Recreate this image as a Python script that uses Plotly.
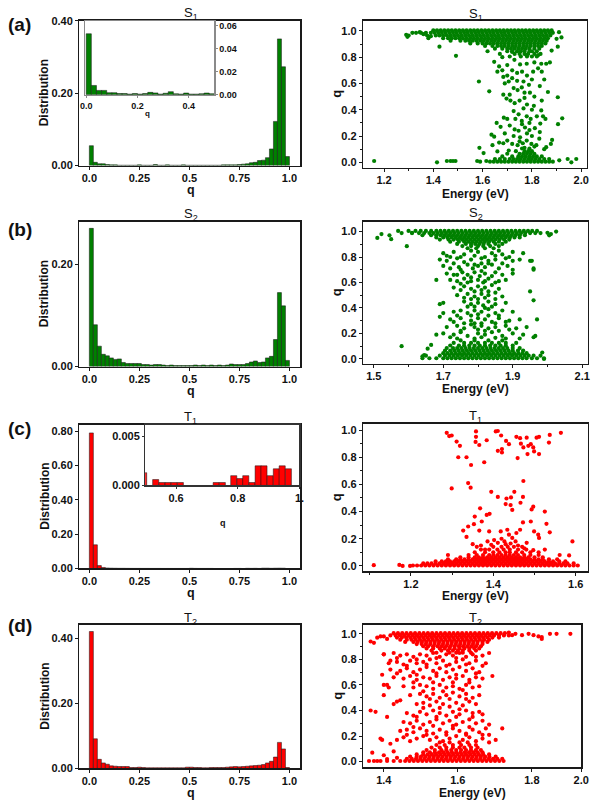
import plotly.graph_objects as go

W, H = 600, 806
FONT = "Liberation Sans, Arial, sans-serif"
GREEN = "#008000"
RED = "#ff0000"

# ---------------- histogram data ----------------
bin_w = 0.02
hist_centers = [round(0.01 + 0.02 * k, 3) for k in range(50)]

hist_s1 = [0.055, 0.009, 0.005, 0.005, 0.003, 0.002, 0.002, 0.001, 0.001, 0.001,
           0.001, 0.001, 0.002, 0.001, 0.001, 0.001, 0.003, 0.001, 0.001, 0.002,
           0.001, 0.001, 0.001, 0.002, 0.001, 0.001, 0.001, 0.001, 0.001, 0.001,
           0.001, 0.001, 0.001, 0.002, 0.002, 0.002, 0.002, 0.003, 0.004, 0.005,
           0.008, 0.009, 0.014, 0.015, 0.022, 0.046, 0.122, 0.350, 0.273, 0.025]
hist_s2 = [0.271, 0.082, 0.040, 0.024, 0.021, 0.017, 0.014, 0.015, 0.008, 0.006,
           0.006, 0.006, 0.006, 0.004, 0.004, 0.003, 0.004, 0.004, 0.003, 0.002,
           0.003, 0.002, 0.002, 0.002, 0.002, 0.002, 0.003, 0.002, 0.003, 0.002,
           0.003, 0.002, 0.003, 0.002, 0.003, 0.005, 0.004, 0.004, 0.004, 0.006,
           0.009, 0.011, 0.008, 0.009, 0.017, 0.020, 0.053, 0.145, 0.119, 0.012]
hist_t1 = [0.79, 0.138, 0.017, 0.006, 0.003, 0.002, 0.0015, 0.001, 0.001, 0.0008,
           0.0006, 0.0005, 0.0005, 0.0004, 0.0004, 0.0003, 0.0003, 0.0003, 0.0002, 0.0002,
           0.0002, 0.0002, 0.0002, 0.0002, 0.0002, 0.0013, 0.0006, 0.0003, 0.0003, 0.0003,
           0.0003, 0, 0, 0, 0, 0, 0.0003, 0.0003, 0, 0.001,
           0.0007, 0.001, 0.0003, 0.002, 0.002, 0.001, 0.0017, 0.002, 0.0017, 0]
hist_t2 = [0.42, 0.091, 0.028, 0.017, 0.013, 0.008, 0.007, 0.006, 0.006, 0.006,
           0.003, 0.003, 0.004, 0.003, 0.002, 0.002, 0.002, 0.002, 0.002, 0.002,
           0.002, 0.002, 0.002, 0.002, 0.004, 0.004, 0.003, 0.003, 0.002, 0.002,
           0.003, 0.003, 0.003, 0.003, 0.004, 0.005, 0.006, 0.005, 0.006, 0.007,
           0.008, 0.009, 0.010, 0.012, 0.017, 0.022, 0.035, 0.080, 0.060, 0.003]

inset_s1_centers = [round(0.01 + 0.02 * k, 3) for k in range(25)]
inset_s1 = [0.053, 0.008, 0.0037, 0.0037, 0.0017, 0.0017, 0.001, 0.001, 0.0005, 0.001,
            0.0005, 0.001, 0.002, 0.0015, 0.0005, 0.0012, 0.0026, 0.0008, 0.0005, 0.0014,
            0.0005, 0.0005, 0.0008, 0.0014, 0.0008]
inset_t1_w = 0.0197
inset_t1_centers = [0.495, 0.534, 0.554, 0.574, 0.594, 0.614, 0.73, 0.75, 0.787, 0.807,
                    0.826, 0.846, 0.866, 0.885, 0.905, 0.925, 0.944, 0.964]
inset_t1 = [0.0013, 0.0006, 0.0003, 0.0003, 0.0003, 0.0003, 0.0003, 0.0003, 0.001, 0.0007,
            0.001, 0.0003, 0.002, 0.002, 0.001, 0.0017, 0.002, 0.0017]

# ---------------- scatter data (Energy, q) ----------------
# dense bands: (q, [energies])
s1_top_rows = [
    (1.005, [1.40, 1.415, 1.43, 1.445, 1.46, 1.475, 1.49, 1.505, 1.52, 1.535, 1.55, 1.565, 1.58, 1.595, 1.61, 1.625, 1.64, 1.655, 1.67, 1.685, 1.70, 1.715, 1.73, 1.745, 1.76, 1.775, 1.79, 1.805, 1.82, 1.835, 1.85, 1.865, 1.88]),
    (0.985, [1.33, 1.35, 1.37, 1.39, 1.405, 1.42, 1.435, 1.45, 1.465, 1.48, 1.495, 1.51, 1.525, 1.54, 1.555, 1.57, 1.585, 1.60, 1.615, 1.63, 1.645, 1.66, 1.675, 1.69, 1.705, 1.72, 1.735, 1.75, 1.765, 1.78, 1.795, 1.81, 1.825, 1.84, 1.855, 1.87, 1.885]),
    (0.965, [1.30, 1.375, 1.41, 1.425, 1.44, 1.455, 1.47, 1.485, 1.50, 1.515, 1.53, 1.545, 1.56, 1.575, 1.59, 1.605, 1.62, 1.635, 1.65, 1.665, 1.68, 1.695, 1.71, 1.725, 1.74, 1.755, 1.77, 1.785, 1.80, 1.815, 1.83, 1.845, 1.86, 1.875]),
    (0.945, [1.38, 1.44, 1.46, 1.475, 1.49, 1.505, 1.52, 1.535, 1.55, 1.565, 1.58, 1.595, 1.61, 1.625, 1.64, 1.655, 1.67, 1.685, 1.70, 1.715, 1.73, 1.745, 1.76, 1.775, 1.79, 1.805, 1.82, 1.835, 1.85, 1.865]),
    (0.925, [1.47, 1.51, 1.53, 1.545, 1.56, 1.575, 1.59, 1.605, 1.62, 1.635, 1.65, 1.665, 1.68, 1.695, 1.71, 1.725, 1.74, 1.755, 1.77, 1.785, 1.80, 1.815, 1.83, 1.845, 1.86]),
    (0.905, [1.55, 1.58, 1.60, 1.615, 1.63, 1.645, 1.66, 1.675, 1.69, 1.705, 1.72, 1.735, 1.75, 1.765, 1.78, 1.795, 1.81, 1.825, 1.84, 1.855]),
    (0.885, [1.61, 1.64, 1.66, 1.675, 1.69, 1.705, 1.72, 1.735, 1.75, 1.765, 1.78, 1.795, 1.81, 1.825, 1.84]),
    (0.865, [1.65, 1.68, 1.70, 1.715, 1.73, 1.745, 1.76, 1.775, 1.79, 1.81, 1.83]),
    (0.845, [1.62, 1.70, 1.72, 1.74, 1.755, 1.77, 1.79, 1.80, 1.82]),
    (0.825, [1.67, 1.73, 1.75, 1.77, 1.785, 1.81, 1.835]),
    (0.805, [1.71, 1.755, 1.78, 1.80, 1.82]),
]
s1_bottom_rows = [
    (0.005, [1.63, 1.645, 1.66, 1.675, 1.69, 1.705, 1.72, 1.735, 1.75, 1.765, 1.78, 1.795, 1.81, 1.825, 1.84, 1.855, 1.87, 1.885]),
    (0.025, [1.65, 1.67, 1.69, 1.71, 1.725, 1.74, 1.755, 1.77, 1.785, 1.80, 1.815, 1.83, 1.85, 1.87]),
    (0.045, [1.68, 1.72, 1.745, 1.76, 1.775, 1.79, 1.805, 1.82, 1.84]),
    (0.065, [1.70, 1.75, 1.765, 1.78, 1.795, 1.81]),
    (0.085, [1.735, 1.77, 1.785, 1.80]),
    (0.105, [1.76, 1.79]),
]
s1_points = [
    (1.16, 0.01), (1.415, 0.0), (1.455, 0.01), (1.47, 0.01), (1.48, 0.01), (1.49, 0.01), (1.578, 0.01), (1.59, 0.005), (1.615, 0.01),
    (1.587, 0.11), (1.604, 0.07), (1.585, 0.615), (1.627, 0.54), (1.425, 0.88), (1.492, 0.81),
    (1.66, 0.69), (1.68, 0.70), (1.684, 0.65), (1.70, 0.66), (1.706, 0.615), (1.72, 0.64), (1.726, 0.565), (1.71, 0.515), (1.684, 0.515),
    (1.697, 0.485), (1.713, 0.47), (1.742, 0.55), (1.759, 0.57), (1.766, 0.615), (1.788, 0.59), (1.792, 0.53), (1.832, 0.58), (1.838, 0.75),
    (1.825, 0.715), (1.805, 0.69), (1.779, 0.75), (1.752, 0.745), (1.729, 0.78), (1.70, 0.74), (1.667, 0.73), (1.647, 0.765), (1.72, 0.84),
    (1.68, 0.80), (1.779, 0.815), (1.825, 0.815), (1.858, 0.75),
    (1.726, 0.39), (1.746, 0.365), (1.766, 0.41), (1.779, 0.35), (1.795, 0.33), (1.838, 0.395), (1.845, 0.35), (1.808, 0.43), (1.733, 0.33),
    (1.70, 0.33), (1.686, 0.34), (1.759, 0.315), (1.772, 0.265), (1.79, 0.245), (1.746, 0.24), (1.726, 0.2), (1.752, 0.19), (1.812, 0.26),
    (1.832, 0.23), (1.855, 0.33), (1.657, 0.30), (1.673, 0.27), (1.636, 0.21), (1.647, 0.195), (1.667, 0.15), (1.684, 0.145), (1.70, 0.165),
    (1.72, 0.14), (1.742, 0.13), (1.763, 0.145), (1.779, 0.165), (1.798, 0.14), (1.818, 0.13), (1.882, 0.17), (1.877, 0.14), (1.858, 0.115),
    (1.66, 0.083), (1.706, 0.09), (1.865, 0.535), (1.834, 0.295),
    (1.911, 0.015), (1.945, 0.025), (1.96, 0.0), (1.98, 0.025), (1.906, 0.29), (1.923, 0.335), (1.905, 0.495), (1.90, 0.94), (1.91, 0.99),
    (1.92, 0.95), (1.88, 0.85), (1.905, 0.88), (1.873, 0.76),
    (1.29, 0.97), (1.295, 0.955), (1.315, 0.985), (1.345, 0.99), (1.36, 0.975), (1.39, 0.96),
    (1.75, 0.47), (1.77, 0.49), (1.78, 0.44), (1.73, 0.45), (1.80, 0.40), (1.76, 0.29), (1.79, 0.30), (1.82, 0.35), (1.78, 0.22), (1.80, 0.20),
    (1.76, 0.69), (1.78, 0.66), (1.80, 0.63), (1.74, 0.62), (1.72, 0.70), (1.69, 0.60), (1.74, 0.68), (1.81, 0.76), (1.84, 0.69), (1.85, 0.63),
    (1.77, 0.53), (1.81, 0.50), (1.84, 0.47), (1.73, 0.25), (1.71, 0.28), (1.69, 0.22), (1.77, 0.11), (1.81, 0.12), (1.83, 0.18), (1.75, 0.16),
    (1.64, 0.13), (1.85, 0.10),
]

s2_top_rows = [
    (1.005, [1.57, 1.60, 1.62, 1.635, 1.65, 1.665, 1.68, 1.692, 1.704, 1.716, 1.728, 1.74, 1.752, 1.764, 1.776, 1.788, 1.80, 1.812, 1.824, 1.836, 1.848, 1.86, 1.872, 1.884, 1.896, 1.908, 1.92, 1.932, 1.944, 1.956, 1.97]),
    (0.988, [1.58, 1.61, 1.63, 1.645, 1.66, 1.672, 1.684, 1.696, 1.708, 1.72, 1.732, 1.744, 1.756, 1.768, 1.78, 1.792, 1.804, 1.816, 1.828, 1.84, 1.852, 1.864, 1.876, 1.888, 1.90, 1.912, 1.924, 1.936, 1.95, 1.965, 1.98]),
    (0.971, [1.64, 1.665, 1.68, 1.692, 1.704, 1.716, 1.728, 1.74, 1.752, 1.764, 1.776, 1.788, 1.80, 1.812, 1.824, 1.836, 1.848, 1.86, 1.872, 1.884, 1.896, 1.908, 1.92, 1.935]),
    (0.954, [1.68, 1.70, 1.712, 1.724, 1.736, 1.748, 1.76, 1.772, 1.784, 1.796, 1.808, 1.82, 1.832, 1.844, 1.856, 1.868, 1.88, 1.892, 1.905, 1.92]),
    (0.937, [1.69, 1.715, 1.73, 1.742, 1.754, 1.766, 1.778, 1.79, 1.802, 1.814, 1.826, 1.838, 1.85, 1.862, 1.875, 1.89]),
    (0.920, [1.72, 1.745, 1.76, 1.772, 1.784, 1.796, 1.808, 1.82, 1.832, 1.845, 1.86, 1.88]),
    (0.903, [1.74, 1.765, 1.78, 1.792, 1.804, 1.816, 1.83, 1.85, 1.87]),
    (0.886, [1.755, 1.78, 1.80, 1.815, 1.835, 1.86]),
    (0.869, [1.77, 1.795, 1.82, 1.845]),
]
s2_bottom_rows = [
    (0.005, [1.64, 1.66, 1.68, 1.70, 1.712, 1.724, 1.736, 1.748, 1.76, 1.772, 1.784, 1.796, 1.808, 1.82, 1.832, 1.844, 1.856, 1.868, 1.88, 1.892, 1.904, 1.916, 1.928, 1.94, 1.955, 1.97, 1.99]),
    (0.025, [1.65, 1.69, 1.705, 1.718, 1.73, 1.742, 1.754, 1.766, 1.778, 1.79, 1.802, 1.814, 1.826, 1.838, 1.85, 1.862, 1.874, 1.886, 1.898, 1.91, 1.922, 1.934, 1.946, 1.96, 1.98]),
    (0.045, [1.70, 1.712, 1.724, 1.736, 1.748, 1.76, 1.772, 1.784, 1.796, 1.808, 1.82, 1.832, 1.844, 1.856, 1.868, 1.88, 1.892, 1.904, 1.916, 1.928, 1.94]),
    (0.065, [1.705, 1.72, 1.732, 1.744, 1.756, 1.768, 1.78, 1.792, 1.804, 1.816, 1.828, 1.84, 1.852, 1.864, 1.876, 1.888, 1.90, 1.915, 1.93]),
    (0.085, [1.71, 1.728, 1.74, 1.752, 1.764, 1.776, 1.788, 1.80, 1.812, 1.824, 1.836, 1.848, 1.86, 1.872, 1.884, 1.90, 1.92]),
    (0.105, [1.72, 1.745, 1.76, 1.775, 1.79, 1.805, 1.82, 1.835, 1.85, 1.865, 1.88, 1.90]),
    (0.125, [1.73, 1.76, 1.78, 1.80, 1.82, 1.84, 1.86, 1.88, 1.91]),
    (0.145, [1.75, 1.79, 1.83, 1.87]),
]
s2_points = [
    (1.70, 0.83), (1.73, 0.84), (1.76, 0.82), (1.80, 0.84), (1.84, 0.83), (1.87, 0.82), (1.90, 0.84), (1.93, 0.83), (1.78, 0.85), (1.86, 0.85),
    (1.69, 0.78), (1.71, 0.77), (1.74, 0.79), (1.76, 0.76), (1.78, 0.78), (1.81, 0.79), (1.83, 0.77), (1.85, 0.78), (1.88, 0.79), (1.90, 0.77),
    (1.92, 0.78), (1.95, 0.77), (1.72, 0.80),
    (1.70, 0.73), (1.72, 0.71), (1.745, 0.72), (1.77, 0.74), (1.785, 0.71), (1.80, 0.73), (1.82, 0.72), (1.84, 0.74), (1.86, 0.71), (1.885, 0.73),
    (1.90, 0.70), (1.96, 0.71), (1.75, 0.70), (1.81, 0.75),
    (1.71, 0.67), (1.73, 0.66), (1.755, 0.68), (1.77, 0.66), (1.79, 0.68), (1.805, 0.65), (1.82, 0.67), (1.85, 0.68), (1.87, 0.66), (1.90, 0.67), (1.78, 0.64),
    (1.68, 0.62), (1.72, 0.62), (1.74, 0.61), (1.76, 0.63), (1.78, 0.61), (1.80, 0.62), (1.815, 0.60), (1.83, 0.63), (1.86, 0.61), (1.88, 0.62), (1.75, 0.59),
    (1.73, 0.56), (1.76, 0.57), (1.78, 0.55), (1.80, 0.57), (1.82, 0.56), (1.84, 0.58), (1.86, 0.55), (1.79, 0.53), (1.95, 0.53),
    (1.74, 0.50), (1.77, 0.51), (1.79, 0.49), (1.81, 0.51), (1.83, 0.50), (1.85, 0.52), (1.87, 0.49), (1.80, 0.47), (1.96, 0.46),
    (1.69, 0.43), (1.70, 0.44), (1.76, 0.45), (1.78, 0.43), (1.80, 0.44), (1.815, 0.42), (1.83, 0.45), (1.85, 0.43), (1.88, 0.44), (1.79, 0.41),
    (1.70, 0.36), (1.73, 0.37), (1.75, 0.38), (1.77, 0.36), (1.79, 0.38), (1.81, 0.37), (1.83, 0.39), (1.85, 0.36), (1.87, 0.38), (1.90, 0.37),
    (1.69, 0.33), (1.74, 0.34),
    (1.72, 0.31), (1.75, 0.32), (1.78, 0.30), (1.80, 0.32), (1.82, 0.31), (1.84, 0.29), (1.86, 0.32), (1.89, 0.30), (1.92, 0.31), (1.97, 0.31),
    (1.76, 0.28), (1.81, 0.28),
    (1.71, 0.25), (1.74, 0.26), (1.76, 0.24), (1.79, 0.25), (1.81, 0.26), (1.83, 0.24), (1.85, 0.25), (1.88, 0.26), (1.91, 0.24), (1.94, 0.25),
    (1.78, 0.27), (1.82, 0.22),
    (1.68, 0.19), (1.70, 0.20), (1.73, 0.19), (1.75, 0.21), (1.77, 0.18), (1.80, 0.20), (1.82, 0.19), (1.84, 0.21), (1.87, 0.18), (1.90, 0.20),
    (1.93, 0.19), (1.96, 0.17), (1.965, 0.18), (1.72, 0.17), (1.79, 0.16), (1.85, 0.165),
    (1.71, 0.81), (1.75, 0.80), (1.79, 0.81), (1.82, 0.80), (1.85, 0.81), (1.89, 0.80), (1.73, 0.75), (1.79, 0.74), (1.83, 0.75), (1.87, 0.75),
    (1.74, 0.66), (1.81, 0.69), (1.84, 0.65), (1.77, 0.60), (1.82, 0.61), (1.85, 0.60), (1.75, 0.54), (1.81, 0.54), (1.83, 0.53), (1.76, 0.48),
    (1.78, 0.47), (1.82, 0.48), (1.85, 0.47), (1.77, 0.41), (1.82, 0.40), (1.84, 0.41), (1.78, 0.34), (1.80, 0.35), (1.83, 0.34), (1.86, 0.34),
    (1.73, 0.29), (1.79, 0.28), (1.85, 0.28), (1.88, 0.29), (1.75, 0.22), (1.80, 0.23), (1.86, 0.22), (1.89, 0.23), (1.74, 0.16), (1.81, 0.17),
    (1.88, 0.16), (1.92, 0.16),
    (1.51, 0.95), (1.522, 0.98), (1.545, 0.97), (1.55, 0.94), (1.595, 0.885), (1.61, 0.99), (2.00, 0.99), (2.01, 0.98), (2.025, 1.0), (2.005, 0.97),
    (1.58, 0.10), (1.64, 0.02), (1.645, 0.03), (1.655, 0.08), (1.665, 0.11), (1.985, 0.05), (1.99, 0.0), (1.955, 0.77), (1.96, 0.70),
]

t1_bottom_rows = [
    (0.003, [1.205, 1.215, 1.225, 1.235, 1.245, 1.255, 1.265, 1.275, 1.285, 1.295, 1.305, 1.315, 1.325, 1.335, 1.345, 1.355, 1.365, 1.375, 1.385, 1.395, 1.405, 1.415, 1.425, 1.435, 1.445, 1.455, 1.465, 1.475, 1.485, 1.495, 1.505, 1.515, 1.525, 1.535, 1.545, 1.555, 1.565, 1.575, 1.585, 1.595, 1.605]),
    (0.018, [1.23, 1.24, 1.25, 1.26, 1.27, 1.28, 1.29, 1.30, 1.31, 1.32, 1.33, 1.34, 1.35, 1.36, 1.37, 1.38, 1.39, 1.40, 1.41, 1.42, 1.43, 1.44, 1.45, 1.46, 1.47, 1.48, 1.49, 1.50, 1.51, 1.52, 1.53, 1.54, 1.55, 1.56, 1.57, 1.58, 1.595]),
    (0.033, [1.26, 1.275, 1.285, 1.295, 1.305, 1.315, 1.325, 1.335, 1.345, 1.355, 1.365, 1.375, 1.385, 1.395, 1.405, 1.415, 1.425, 1.435, 1.445, 1.455, 1.465, 1.475, 1.485, 1.495, 1.505, 1.515, 1.525, 1.535, 1.545, 1.56, 1.575]),
    (0.048, [1.29, 1.31, 1.32, 1.33, 1.34, 1.35, 1.36, 1.37, 1.38, 1.39, 1.40, 1.41, 1.42, 1.43, 1.44, 1.45, 1.46, 1.47, 1.48, 1.49, 1.50, 1.51, 1.52, 1.535, 1.555]),
    (0.063, [1.32, 1.34, 1.355, 1.365, 1.375, 1.385, 1.395, 1.405, 1.415, 1.425, 1.435, 1.445, 1.455, 1.465, 1.475, 1.485, 1.50, 1.52]),
    (0.080, [1.34, 1.36, 1.375, 1.39, 1.40, 1.41, 1.42, 1.43, 1.44, 1.45, 1.46, 1.475, 1.49, 1.51]),
    (0.100, [1.355, 1.38, 1.40, 1.415, 1.43, 1.44, 1.455, 1.47, 1.49]),
    (0.120, [1.37, 1.39, 1.41, 1.425, 1.44, 1.46, 1.48]),
    (0.140, [1.36, 1.40, 1.42, 1.435, 1.45, 1.47]),
]
t1_points = [
    (1.11, 0.005), (1.172, 0.007), (1.18, 0.0), (1.198, 0.0), (1.29, 0.08),
    (1.287, 0.98), (1.293, 0.956), (1.299, 0.96), (1.311, 0.915), (1.319, 0.884), (1.315, 0.80), (1.335, 0.80), (1.346, 0.743), (1.358, 0.99),
    (1.358, 0.95), (1.357, 0.913), (1.366, 0.89), (1.378, 0.763), (1.384, 0.925), (1.406, 0.99), (1.411, 0.993), (1.411, 0.847), (1.419, 0.96),
    (1.421, 0.86), (1.421, 0.835), (1.431, 0.92), (1.438, 0.896), (1.456, 0.95), (1.459, 0.794), (1.465, 0.94), (1.467, 0.90), (1.473, 0.872),
    (1.481, 0.944), (1.483, 0.823), (1.485, 0.884), (1.491, 0.896), (1.497, 0.872), (1.505, 0.944), (1.511, 0.95), (1.511, 0.823), (1.499, 0.843),
    (1.535, 0.908), (1.537, 0.964), (1.564, 0.98),
    (1.299, 0.57), (1.339, 0.61), (1.345, 0.576), (1.368, 0.424), (1.372, 0.327), (1.384, 0.375), (1.395, 0.545), (1.391, 0.383), (1.411, 0.508),
    (1.432, 0.496), (1.443, 0.504), (1.451, 0.545), (1.473, 0.625), (1.472, 0.508), (1.466, 0.465), (1.43, 0.455), (1.442, 0.448), (1.446, 0.412),
    (1.493, 0.416), (1.497, 0.436), (1.525, 0.40), (1.529, 0.31), (1.327, 0.26), (1.335, 0.213), (1.339, 0.29), (1.353, 0.307), (1.355, 0.363),
    (1.366, 0.26), (1.39, 0.254), (1.418, 0.254), (1.434, 0.266), (1.438, 0.23), (1.446, 0.206), (1.456, 0.242), (1.465, 0.266), (1.472, 0.32),
    (1.491, 0.327), (1.499, 0.254), (1.509, 0.23), (1.511, 0.206), (1.537, 0.247), (1.592, 0.18), (1.386, 0.18), (1.402, 0.19), (1.411, 0.17),
    (1.427, 0.18), (1.442, 0.165), (1.454, 0.18), (1.481, 0.17), (1.497, 0.116), (1.525, 0.12), (1.561, 0.08), (1.584, 0.077),
    (1.35, 0.16), (1.37, 0.15), (1.395, 0.155), (1.42, 0.20), (1.43, 0.16), (1.46, 0.15), (1.475, 0.13), (1.38, 0.12), (1.51, 0.10),
]

t2_top_rows = [
    (1.005, [1.43, 1.443, 1.456, 1.469, 1.482, 1.495, 1.508, 1.521, 1.534, 1.547, 1.56, 1.573, 1.586, 1.599, 1.612, 1.625, 1.638, 1.651, 1.664, 1.677, 1.69, 1.703, 1.716, 1.729, 1.742, 1.755, 1.768]),
    (0.988, [1.42, 1.436, 1.449, 1.462, 1.475, 1.488, 1.501, 1.514, 1.527, 1.54, 1.553, 1.566, 1.579, 1.592, 1.605, 1.618, 1.631, 1.644, 1.657, 1.67, 1.683, 1.696, 1.709, 1.722, 1.735, 1.75, 1.765, 1.78]),
    (0.971, [1.44, 1.455, 1.468, 1.481, 1.494, 1.507, 1.52, 1.533, 1.546, 1.559, 1.572, 1.585, 1.598, 1.611, 1.624, 1.637, 1.65, 1.663, 1.676, 1.689, 1.702, 1.715, 1.73, 1.75]),
    (0.954, [1.45, 1.47, 1.484, 1.497, 1.51, 1.523, 1.536, 1.549, 1.562, 1.575, 1.588, 1.601, 1.614, 1.627, 1.64, 1.653, 1.666, 1.679, 1.692, 1.705, 1.72]),
    (0.937, [1.465, 1.49, 1.503, 1.516, 1.529, 1.542, 1.555, 1.568, 1.581, 1.594, 1.607, 1.62, 1.633, 1.646, 1.659, 1.672, 1.685, 1.70, 1.715]),
    (0.920, [1.50, 1.515, 1.528, 1.541, 1.554, 1.567, 1.58, 1.593, 1.606, 1.619, 1.632, 1.645, 1.658, 1.671, 1.684, 1.70]),
    (0.903, [1.52, 1.535, 1.55, 1.563, 1.576, 1.589, 1.602, 1.615, 1.628, 1.641, 1.654, 1.667, 1.68, 1.695]),
    (0.886, [1.53, 1.55, 1.57, 1.585, 1.60, 1.615, 1.63, 1.645, 1.66, 1.675, 1.69]),
    (0.869, [1.545, 1.575, 1.595, 1.61, 1.625, 1.64, 1.66, 1.68]),
    (0.852, [1.56, 1.60, 1.62, 1.64, 1.665]),
]
t2_bottom_rows = [
    (0.005, [1.355, 1.37, 1.38, 1.39, 1.41, 1.43, 1.45, 1.465, 1.478, 1.491, 1.504, 1.517, 1.53, 1.543, 1.556, 1.569, 1.582, 1.595, 1.608, 1.621, 1.634, 1.647, 1.66, 1.673, 1.686, 1.699, 1.712, 1.725, 1.738, 1.751, 1.764]),
    (0.022, [1.47, 1.485, 1.498, 1.511, 1.524, 1.537, 1.55, 1.563, 1.576, 1.589, 1.602, 1.615, 1.628, 1.641, 1.654, 1.667, 1.68, 1.693, 1.706, 1.719, 1.732, 1.745, 1.76]),
    (0.039, [1.48, 1.50, 1.513, 1.526, 1.539, 1.552, 1.565, 1.578, 1.591, 1.604, 1.617, 1.63, 1.643, 1.656, 1.669, 1.682, 1.695, 1.708, 1.721, 1.74]),
    (0.056, [1.50, 1.52, 1.533, 1.546, 1.559, 1.572, 1.585, 1.598, 1.611, 1.624, 1.637, 1.65, 1.663, 1.676, 1.689, 1.702, 1.72]),
    (0.073, [1.52, 1.54, 1.555, 1.568, 1.581, 1.594, 1.607, 1.62, 1.633, 1.646, 1.659, 1.672, 1.685, 1.70]),
    (0.090, [1.53, 1.555, 1.575, 1.59, 1.605, 1.62, 1.635, 1.65, 1.665, 1.68, 1.695]),
    (0.110, [1.545, 1.57, 1.59, 1.61, 1.63, 1.645, 1.665, 1.685]),
    (0.130, [1.56, 1.585, 1.61, 1.635, 1.66, 1.68]),
    (0.150, [1.57, 1.60, 1.63, 1.655]),
]
t2_points = [
    (1.40, 0.84), (1.43, 0.85), (1.45, 0.83), (1.47, 0.84), (1.49, 0.82), (1.51, 0.84), (1.53, 0.83), (1.55, 0.85), (1.57, 0.82), (1.59, 0.84),
    (1.61, 0.83), (1.63, 0.85), (1.65, 0.82), (1.67, 0.84), (1.70, 0.83), (1.72, 0.85),
    (1.415, 0.77), (1.42, 0.79), (1.44, 0.78), (1.46, 0.76), (1.48, 0.79), (1.50, 0.77), (1.52, 0.78), (1.54, 0.80), (1.56, 0.77), (1.58, 0.79),
    (1.60, 0.76), (1.62, 0.78), (1.64, 0.80), (1.66, 0.77), (1.68, 0.79), (1.71, 0.77),
    (1.42, 0.72), (1.45, 0.71), (1.47, 0.73), (1.49, 0.70), (1.51, 0.72), (1.53, 0.74), (1.55, 0.71), (1.57, 0.73), (1.59, 0.70), (1.61, 0.72),
    (1.63, 0.74), (1.65, 0.71), (1.67, 0.73), (1.69, 0.70), (1.73, 0.67),
    (1.395, 0.68), (1.43, 0.66), (1.46, 0.65), (1.48, 0.67), (1.50, 0.64), (1.52, 0.66), (1.54, 0.65), (1.56, 0.67), (1.58, 0.64), (1.60, 0.66),
    (1.62, 0.65), (1.64, 0.67), (1.66, 0.64), (1.68, 0.66), (1.70, 0.65),
    (1.40, 0.60), (1.41, 0.60), (1.415, 0.58), (1.46, 0.59), (1.49, 0.58), (1.51, 0.60), (1.53, 0.59), (1.55, 0.57), (1.57, 0.60), (1.59, 0.58),
    (1.61, 0.59), (1.63, 0.57), (1.65, 0.60), (1.67, 0.58), (1.69, 0.59),
    (1.40, 0.52), (1.48, 0.52), (1.51, 0.53), (1.53, 0.51), (1.55, 0.53), (1.57, 0.50), (1.59, 0.52), (1.61, 0.54), (1.63, 0.51), (1.65, 0.53),
    (1.67, 0.50), (1.69, 0.52),
    (1.44, 0.47), (1.45, 0.48), (1.50, 0.45), (1.52, 0.46), (1.54, 0.44), (1.56, 0.47), (1.58, 0.45), (1.60, 0.43), (1.62, 0.46), (1.64, 0.44),
    (1.66, 0.47), (1.68, 0.45), (1.43, 0.45),
    (1.36, 0.40), (1.375, 0.39), (1.47, 0.38), (1.49, 0.36), (1.51, 0.39), (1.53, 0.37), (1.55, 0.40), (1.57, 0.38), (1.59, 0.36), (1.61, 0.39),
    (1.63, 0.37), (1.65, 0.40), (1.67, 0.38), (1.69, 0.39), (1.70, 0.37), (1.41, 0.35),
    (1.46, 0.31), (1.48, 0.30), (1.50, 0.32), (1.52, 0.29), (1.54, 0.31), (1.56, 0.33), (1.58, 0.30), (1.60, 0.32), (1.62, 0.29), (1.64, 0.31),
    (1.66, 0.33), (1.68, 0.30), (1.70, 0.32), (1.72, 0.29),
    (1.45, 0.24), (1.47, 0.25), (1.49, 0.23), (1.51, 0.26), (1.53, 0.24), (1.55, 0.22), (1.57, 0.25), (1.59, 0.23), (1.61, 0.26), (1.63, 0.24),
    (1.65, 0.22), (1.67, 0.25), (1.69, 0.23), (1.71, 0.26), (1.72, 0.21), (1.76, 0.26),
    (1.39, 0.18), (1.395, 0.17), (1.42, 0.14), (1.44, 0.17), (1.46, 0.19), (1.48, 0.16), (1.50, 0.18), (1.52, 0.20), (1.54, 0.17), (1.56, 0.19),
    (1.58, 0.16), (1.60, 0.18), (1.62, 0.20), (1.64, 0.17), (1.66, 0.19), (1.68, 0.16), (1.70, 0.18), (1.72, 0.15), (1.74, 0.17),
    (1.44, 0.81), (1.50, 0.80), (1.56, 0.81), (1.62, 0.81), (1.68, 0.82), (1.47, 0.75), (1.53, 0.76), (1.59, 0.75), (1.65, 0.76), (1.70, 0.75),
    (1.44, 0.69), (1.50, 0.68), (1.56, 0.69), (1.62, 0.68), (1.68, 0.69), (1.49, 0.62), (1.55, 0.62), (1.61, 0.62), (1.66, 0.62), (1.52, 0.55),
    (1.58, 0.55), (1.64, 0.56), (1.54, 0.49), (1.60, 0.49), (1.65, 0.49), (1.52, 0.42), (1.57, 0.42), (1.63, 0.41), (1.50, 0.35), (1.56, 0.35),
    (1.62, 0.35), (1.67, 0.35), (1.49, 0.27), (1.55, 0.28), (1.61, 0.28), (1.66, 0.27), (1.47, 0.21), (1.53, 0.21), (1.59, 0.21), (1.65, 0.21),
    (1.70, 0.21),
    (1.36, 0.94), (1.37, 0.93), (1.38, 0.97), (1.39, 0.98), (1.40, 0.84), (1.365, 0.07), (1.40, 0.05), (1.41, 0.02), (1.43, 0.08), (1.44, 0.03),
    (1.80, 1.0), (1.82, 0.99), (1.84, 1.0), (1.855, 0.99), (1.87, 0.98), (1.88, 0.975), (1.88, 0.96), (1.905, 1.0), (1.925, 1.0), (1.967, 1.0),
    (1.78, 1.01), (1.79, 0.99), (1.40, 0.98), (1.41, 0.96),
]

# tick positions and labels of the T2 energy axis as drawn in the figure
t2_tickvals = [1.4, 1.625, 1.85, 2.0]
t2_ticktext = ["1.4", "1.6", "1.8", "2.0"]


def collect(row_groups, points):
    xs, ys = [], []
    for rows in row_groups:
        for q, energies in rows:
            for e in energies:
                xs.append(e)
                ys.append(q)
    for e, q in points:
        xs.append(e)
        ys.append(q)
    return xs, ys


# ---------------- layout helpers ----------------
def dom_x(a, b):
    return [a / W, b / W]


def dom_y(top, bot):
    return [1 - bot / H, 1 - top / H]


TICKFONT = dict(family=FONT, size=11, color="#111", weight="bold")


def main_axis(domain, rng, tickvals, ticktext, anchor, minor=None, standoff=0):
    d = dict(domain=domain, range=rng, anchor=anchor, tickmode="array",
             tickvals=tickvals, ticktext=ticktext, showline=True, mirror=True,
             linecolor="#1a1a1a", linewidth=1.3, ticks="outside", ticklen=3,
             tickwidth=1, tickcolor="#1a1a1a", showgrid=False, zeroline=False,
             tickfont=TICKFONT, fixedrange=True, ticklabelstandoff=standoff)
    if minor is not None:
        d["minor"] = dict(ticks="outside", ticklen=2, tickwidth=1,
                          tickcolor="#1a1a1a", dtick=minor, showgrid=False)
    return d


fig = go.Figure()
layout = {}

hist_x_dom = dom_x(76, 302)
hist_x_rng = [-0.05, 1.055]
hist_ticks = [0, 0.25, 0.5, 0.75, 1.0]
hist_ticktext = ["0.0", "0.25", "0.5", "0.75", "1.0"]
q_ticks = [0, 0.2, 0.4, 0.6, 0.8, 1.0]
q_text = ["0.0", "0.2", "0.4", "0.6", "0.8", "1.0"]

panels = [
    dict(h=hist_s1, hy=(15, 162), hr=[0, 0.40], ht=[0, 0.2, 0.4], htt=["0.00", "0.20", "0.40"], c=GREEN,
         sc=collect([s1_top_rows, s1_bottom_rows], s1_points), sx=(366, 595), sy=(15, 164),
         sxr=[1.115, 2.024], sxt=[1.2, 1.4, 1.6, 1.8, 2.0], sxtt=["1.2", "1.4", "1.6", "1.8", "2.0"], xminor=0.1,
         syr=[-0.04, 1.077]),
    dict(h=hist_s2, hy=(219, 366), hr=[0, 0.284], ht=[0, 0.2], htt=["0.00", "0.20"], c=GREEN,
         sc=collect([s2_top_rows, s2_bottom_rows], s2_points), sx=(366, 596), sy=(219, 363),
         sxr=[1.469, 2.117], sxt=[1.5, 1.7, 1.9, 2.1], sxtt=["1.5", "1.7", "1.9", "2.1"], xminor=0.1,
         syr=[-0.037, 1.077]),
    dict(h=hist_t1, hy=(425, 571), hr=[0, 0.838], ht=[0, 0.2, 0.4, 0.6, 0.8],
         htt=["0.00", "0.20", "0.40", "0.60", "0.80"], c=RED,
         sc=collect([t1_bottom_rows], t1_points), sx=(366, 596), sy=(424, 574),
         sxr=[1.084, 1.630], sxt=[1.2, 1.4, 1.6], sxtt=["1.2", "1.4", "1.6"], xminor=0.1,
         syr=[-0.041, 1.047]),
    dict(h=hist_t2, hy=(628, 774), hr=[0, 0.441], ht=[0, 0.2, 0.4], htt=["0.00", "0.20", "0.40"], c=RED,
         sc=collect([t2_top_rows, t2_bottom_rows], t2_points), sx=(366, 589), sy=(628, 773),
         sxr=[1.337, 2.0], sxt=t2_tickvals, sxtt=t2_ticktext, xminor=None,
         syr=[-0.046, 1.072]),
]

axis_id = 0


def next_ids():
    global axis_id
    axis_id += 1
    return "" if axis_id == 1 else str(axis_id)


bar_line = dict(color="rgba(20,20,20,0.85)", width=0.6)

for p in panels:
    s = next_ids()
    fig.add_trace(go.Bar(x=hist_centers, y=p["h"], width=bin_w, marker=dict(color=p["c"], line=bar_line),
                         xaxis="x" + s, yaxis="y" + s, showlegend=False, hoverinfo="skip"))
    layout["xaxis" + s] = main_axis(hist_x_dom, hist_x_rng, hist_ticks, hist_ticktext, "y" + s, standoff=-1)
    layout["yaxis" + s] = main_axis(dom_y(*p["hy"]), p["hr"], p["ht"], p["htt"], "x" + s)
    s = next_ids()
    xs, ys = p["sc"]
    fig.add_trace(go.Scatter(x=xs, y=ys, mode="markers", marker=dict(size=4.2, color=p["c"], line=dict(width=0)),
                             xaxis="x" + s, yaxis="y" + s, showlegend=False, hoverinfo="skip", cliponaxis=True))
    layout["xaxis" + s] = main_axis(dom_x(*p["sx"]), p["sxr"], p["sxt"], p["sxtt"], "y" + s, minor=p["xminor"], standoff=-1)
    layout["yaxis" + s] = main_axis(dom_y(*p["sy"]), p["syr"], q_ticks, q_text, "x" + s, minor=0.1)

# ---------------- insets ----------------
INSET_FONT = dict(family=FONT, size=9, color="#111", weight="bold")
s = next_ids()
fig.add_trace(go.Bar(x=inset_s1_centers, y=inset_s1, width=bin_w, marker=dict(color=GREEN, line=bar_line),
                     xaxis="x" + s, yaxis="y" + s, showlegend=False, hoverinfo="skip"))
layout["xaxis" + s] = dict(domain=dom_x(81.7, 214), range=[-0.005, 0.5], anchor="y" + s, tickmode="array",
                           tickvals=[0, 0.2, 0.4], ticktext=["0.0", "0.2", "0.4"], showline=True, mirror=True,
                           linecolor="#8a8a8a", linewidth=1.2, ticks="outside", ticklen=2, tickcolor="#8a8a8a",
                           showgrid=False, zeroline=False, tickfont=INSET_FONT, fixedrange=True)
layout["yaxis" + s] = dict(domain=dom_y(15, 90), range=[0, 0.0643], anchor="x" + s, side="right", tickmode="array",
                           tickvals=[0, 0.02, 0.04, 0.06], ticktext=["0.00", "0.02", "0.04", "0.06"], showline=True,
                           mirror=True, linecolor="#8a8a8a", linewidth=1.2, ticks="outside", ticklen=2,
                           tickcolor="#8a8a8a", showgrid=False, zeroline=False, tickfont=INSET_FONT, fixedrange=True)

s = next_ids()
fig.add_trace(go.Bar(x=inset_t1_centers, y=inset_t1, width=inset_t1_w, marker=dict(color=RED, line=bar_line),
                     xaxis="x" + s, yaxis="y" + s, showlegend=False, hoverinfo="skip"))
layout["xaxis" + s] = dict(domain=dom_x(143.3, 301), range=[0.5, 1.0], anchor="y" + s, tickmode="array",
                           tickvals=[0.6, 0.8, 1.0], ticktext=["0.6", "0.8", "1."], showline=True, mirror=True,
                           linecolor="#333", linewidth=1.2, ticks="outside", ticklen=2, tickcolor="#333",
                           showgrid=False, zeroline=False, tickfont=dict(family=FONT, size=11, color="#111", weight="bold"),
                           fixedrange=True)
layout["yaxis" + s] = dict(domain=dom_y(425, 486.7), range=[0, 0.0062], anchor="x" + s, tickmode="array",
                           tickvals=[0, 0.005], ticktext=["0.000", "0.005"], showline=True, mirror=True,
                           linecolor="#333", linewidth=1.2, ticks="outside", ticklen=2, tickcolor="#333",
                           showgrid=False, zeroline=False, tickfont=dict(family=FONT, size=11, color="#111", weight="bold"),
                           fixedrange=True)

# ---------------- annotations ----------------
ann = []


def text(x, y, t, size=12, bold=True, angle=0):
    ann.append(dict(x=x / W, y=1 - y / H, xref="paper", yref="paper", text=t, showarrow=False,
                    xanchor="center", yanchor="middle", textangle=angle,
                    font=dict(family=FONT, size=size, color="#111", weight="bold" if bold else "normal")))


for lab, y in [("(a)", 19), ("(b)", 227), ("(c)", 429), ("(d)", 629)]:
    text(15, y, lab, size=19)

for t, yh, ys in [("S<sub>1</sub>", 8, 9), ("S<sub>2</sub>", 212, 211), ("T<sub>1</sub>", 418, 417), ("T<sub>2</sub>", 622, 622)]:
    text(190, yh, t, size=13, bold=False)
    text(481, ys, t, size=13, bold=False)

for top, bot, qy in [(15, 162, 187), (219, 366, 391), (425, 571, 596), (628, 774, 799)]:
    text(40, (top + bot) / 2, "Distribution", size=12, angle=-90)
    text(190, qy, "q", size=12.5)

for top, bot, ey, ex in [(15, 164, 191, 481), (219, 363, 389, 481), (424, 574, 598.5, 481), (628, 773, 798.5, 478)]:
    text(339, (top + bot) / 2, "q", size=13, angle=-90)
    text(ex, ey, "Energy (eV)", size=12)

text(146, 109, "q", size=8)
text(223, 525, "q", size=9)

layout.update(dict(width=W, height=H, margin=dict(l=0, r=0, t=0, b=0), paper_bgcolor="white",
                   plot_bgcolor="rgba(0,0,0,0)", showlegend=False, annotations=ann, bargap=0))
fig.update_layout(**layout)
fig.write_html("out.html", config={"displayModeBar": False, "staticPlot": True},
               post_script="document.body.style.margin='0px';document.body.style.overflow='hidden';")
